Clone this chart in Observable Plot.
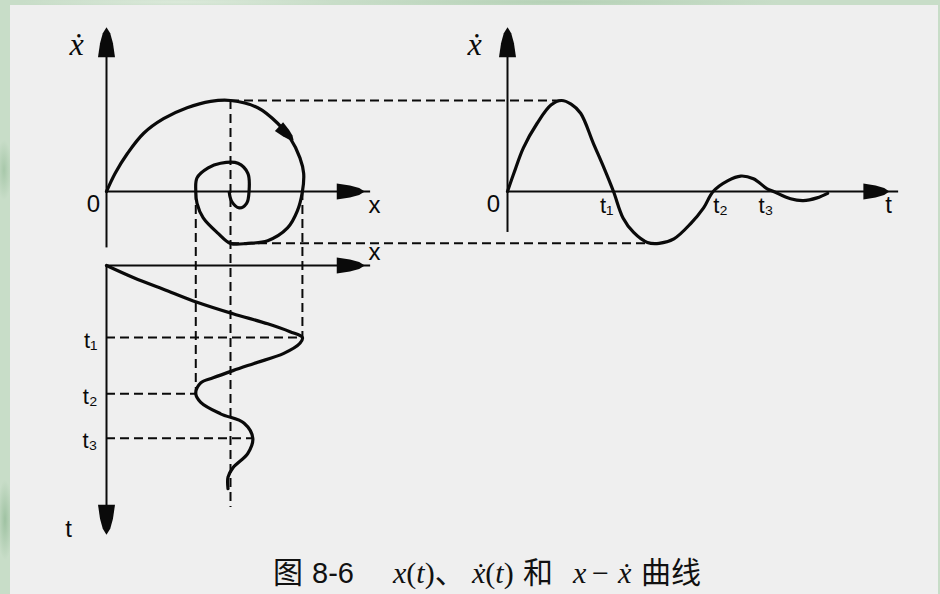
<!DOCTYPE html>
<html lang="zh">
<head>
<meta charset="utf-8">
<title>图 8-6 x(t)、ẋ(t)和x−ẋ曲线</title>
<script src="https://cdn.jsdelivr.net/npm/d3@7"></script>
<script src="https://cdn.jsdelivr.net/npm/@observablehq/plot@0.6"></script>
<style>
  html, body { margin: 0; padding: 0; }
  body {
    width: 940px; height: 594px; overflow: hidden; position: relative;
    background:
      radial-gradient(ellipse 8px 30px at 4px 170px, #a8c8aa, transparent),
      radial-gradient(ellipse 8px 40px at 5px 520px, #9fc2a2, transparent),
      radial-gradient(ellipse 220px 6px at 560px 2px, #b5d1b6, transparent),
      radial-gradient(ellipse 160px 6px at 180px 2px, #dbe9da, transparent),
      #c8ddc8;
  }
  #sheet { position: absolute; left: 10px; top: 5px; width: 928px; height: 589px; background: #efefef; }
  #chart { position: absolute; left: 0; top: 0; width: 940px; height: 540px; }
  #chart svg { position: absolute; left: 0; top: 0; }
  #caption {
    position: absolute; left: 273px; top: 548px; height: 44px; white-space: nowrap;
    font-family: "Noto Sans CJK SC", sans-serif; font-size: 30px; line-height: 44px; color: #111;
  }
  #caption > span { display: inline-block; }
  .cjk { font-family: "Noto Sans CJK SC", sans-serif; font-size: 30px; }
  .num { font-family: "Liberation Sans", sans-serif; font-size: 29px; }
  .m { font-family: "Liberation Serif", "DejaVu Serif", serif; font-size: 30px; }
  .m i { font-style: italic; }
</style>
</head>
<body>
<div id="sheet"></div>
<div id="chart"></div>
<div id="caption"><span class="cjk" style="width:39px">图</span><span class="num" style="width:81px">8-6</span><span class="m" style="width:79px"><i>x</i>(<i>t</i>)<span class="cjk">、</span></span><span class="m" style="width:51px"><i>ẋ</i>(<i>t</i>)</span><span class="cjk" style="width:50px">和</span><span class="m" style="width:19px"><i>x</i></span><span class="m" style="width:26px">−</span><span class="m" style="width:23px"><i>ẋ</i></span><span class="cjk">曲线</span></div>
<script>
const W = 940, H = 540;
const ink = "#0a0a0a";
const sans = "Liberation Sans, DejaVu Sans, sans-serif";
const serif = "Liberation Serif, DejaVu Serif, serif";

// Phase-plane trajectory (displacement x, velocity ẋ), from the origin spiralling inward
const phaseX = [0.00, 0.07, 0.17, 0.30, 0.46, 0.65, 0.84, 1.00, 1.22, 1.38, 1.48, 1.56, 1.59, 1.58, 1.54, 1.46, 1.30, 1.14, 1.00, 0.90, 0.78, 0.73, 0.72, 0.73, 0.82, 0.92, 1.06, 1.14, 1.15, 1.13, 1.07, 1.01, 0.99];
const phaseV = [0.00, 0.20, 0.42, 0.64, 0.80, 0.92, 0.99, 1.00, 0.92, 0.75, 0.59, 0.37, 0.20, 0.00, -0.21, -0.40, -0.54, -0.57, -0.57, -0.46, -0.29, -0.13, 0.00, 0.15, 0.26, 0.31, 0.31, 0.20, 0.01, -0.13, -0.18, -0.11, -0.01];

// Velocity ẋ(t)
const velT = [0.00, 0.06, 0.15, 0.28, 0.41, 0.51, 0.60, 0.69, 0.81, 0.91, 1.00, 1.09, 1.19, 1.32, 1.43, 1.57, 1.73, 1.85, 1.94, 2.08, 2.20, 2.32, 2.45, 2.51, 2.67, 2.79, 2.92, 3.02];
const velV = [0.00, 0.20, 0.48, 0.75, 0.95, 1.00, 0.96, 0.86, 0.53, 0.26, 0.00, -0.29, -0.45, -0.56, -0.57, -0.52, -0.35, -0.18, 0.00, 0.12, 0.17, 0.14, 0.03, 0.00, -0.08, -0.10, -0.07, -0.02];

// Displacement x(t), time running downward
const dispT = [0.00, 0.17, 0.35, 0.51, 0.67, 0.81, 0.92, 1.00, 1.08, 1.22, 1.36, 1.46, 1.56, 1.63, 1.78, 1.90, 2.06, 2.19, 2.40, 2.61, 2.81, 2.94, 3.10];
const dispX = [0.00, 0.22, 0.49, 0.73, 1.02, 1.30, 1.48, 1.58, 1.56, 1.43, 1.19, 1.02, 0.86, 0.76, 0.72, 0.76, 0.92, 1.11, 1.18, 1.14, 1.02, 0.98, 0.98];

// Marked instants t1, t2, t3
const eventLabels = ["t₁", "t₂", "t₃"];
const velZeroT = [1.00, 1.94, 2.51];   // ẋ(t) = 0
const dispPeakT = [1.00, 1.78, 2.40];  // extremes of x(t)
const dispPeakX = [1.58, 0.72, 1.18];

// Velocity extremes and where they sit on the phase trajectory / time axis
const velExtV = [1.00, -0.57];
const velExtPhaseX = [1.00, 1.00];
const velExtT = [0.51, 1.43];

// Equilibrium displacement and how far down its guide line runs
const xEq = 1.00;
const xEqGuideEnd = 3.36;

// ---- layout: origin pixel and pixels per unit for each axis ----
const L = {x0: 106, xUnit: 124, v0: 191, vUnit: 91, tR0: 507, tRUnit: 106, tD0: 265, tDUnit: 72};
const xOpts  = {type: "linear", domain: [-L.x0 / L.xUnit, (W - L.x0) / L.xUnit], range: [0, W]};
const vOpts  = {type: "linear", domain: [(L.v0 - H) / L.vUnit, L.v0 / L.vUnit], range: [H, 0]};
const tROpts = {type: "linear", domain: [-L.tR0 / L.tRUnit, (W - L.tR0) / L.tRUnit], range: [0, W]};
const tDOpts = {type: "linear", domain: [-L.tD0 / L.tDUnit, (H - L.tD0) / L.tDUnit], range: [0, H]};

const sX = Plot.scale({x: xOpts});
const sV = Plot.scale({y: vOpts});
const sTR = Plot.scale({x: tROpts});
const sTD = Plot.scale({y: tDOpts});

// Axis extents (data units)
const phaseVAxis = [-0.62, 1.64], phaseXAxis = [0, 2.13];
const velVAxis = [-0.45, 1.64], velTAxis = [0, 3.69];
const dispXAxis = [0, 2.13], dispTAxis = [0, 3.53];
const xHead = 1.97, tRHead = 3.48;

// Filled spire-shaped arrowhead, rotated clockwise from pointing up
function head(len, wid, deg) {
  const a = deg * Math.PI / 180, c = Math.cos(a), s = Math.sin(a);
  const half = [[0, -0.5], [0.22, -0.3], [0.38, 0.03], [0.5, 0.5]];
  const outline = half.concat(half.slice(1).reverse().map(([x, y]) => [-x, y]));
  const pts = outline.map(([x, y]) => [x * wid, y * len]).map(([x, y]) => [x * c - y * s, x * s + y * c]);
  return {draw(ctx) { ctx.moveTo(...pts[0]); for (const p of pts.slice(1)) ctx.lineTo(...p); ctx.closePath(); }};
}
const arrowDot = (x, y, sym) => Plot.dot([{x, y}], {x: "x", y: "y", symbol: sym, r: 5, fill: ink, stroke: "none"});
const label = (x, y, text, o = {}) =>
  Plot.text([{x, y}], {x: "x", y: "y", text: () => text, fill: ink, fontFamily: sans, fontSize: 24, ...o});
const axisLine = {stroke: ink, strokeWidth: 2};
const dashed = {stroke: ink, strokeWidth: 2, strokeDasharray: "9,5"};
const curve = {stroke: ink, strokeWidth: 3.2, curve: "catmull-rom", strokeLinejoin: "round", strokeLinecap: "round"};
const base = {width: W, height: H, margin: 0, style: "background: transparent; overflow: visible;"};

// ---- phase portrait ----
const phase = phaseX.map((x, i) => ({x, v: phaseV[i]}));
const k = 9, f = 0.7;  // direction marker along the outer turn
const mark = {x: phaseX[k] + f * (phaseX[k + 1] - phaseX[k]), v: phaseV[k] + f * (phaseV[k + 1] - phaseV[k])};
const ddx = sX.apply(phaseX[k + 1]) - sX.apply(phaseX[k - 1]);
const ddy = sV.apply(phaseV[k + 1]) - sV.apply(phaseV[k - 1]);
const markDeg = Math.atan2(ddx, -ddy) * 180 / Math.PI;

const phasePlot = Plot.plot({
  ...base,
  x: {...xOpts, axis: null},
  y: {...vOpts, axis: null},
  marks: [
    Plot.ruleX([0], {y1: phaseVAxis[0], y2: phaseVAxis[1], ...axisLine}),
    Plot.ruleY([0], {x1: phaseXAxis[0], x2: phaseXAxis[1], ...axisLine}),
    arrowDot(0, phaseVAxis[1], head(30, 17, 0)),
    arrowDot(xHead, 0, head(28, 16, 90)),
    Plot.line(phase, {x: "x", y: "v", ...curve}),
    arrowDot(mark.x, mark.v, head(20, 12, markDeg)),
    label(0, phaseVAxis[1], "ẋ", {fontFamily: serif, fontStyle: "italic", fontSize: 32, dx: -30, dy: 2}),
    label(0, 0, "0", {dx: -13, dy: 13}),
    label(phaseXAxis[1], 0, "x", {dx: 4, dy: 14})
  ]
});

// ---- velocity versus time ----
const velocity = velT.map((t, i) => ({t, v: velV[i]}));
const velLinks = velExtV.map((v, i) => ({v, t1: sTR.invert(sX.apply(velExtPhaseX[i])), t2: velExtT[i]}));
const velPlot = Plot.plot({
  ...base,
  x: {...tROpts, axis: null},
  y: {...vOpts, axis: null},
  marks: [
    Plot.ruleY(velLinks, {y: "v", x1: "t1", x2: "t2", ...dashed}),
    Plot.ruleX([0], {y1: velVAxis[0], y2: velVAxis[1], ...axisLine}),
    Plot.ruleY([0], {x1: velTAxis[0], x2: velTAxis[1], ...axisLine}),
    arrowDot(0, velVAxis[1], head(30, 17, 0)),
    arrowDot(tRHead, 0, head(26, 16, 90)),
    Plot.line(velocity, {x: "t", y: "v", ...curve}),
    label(0, velVAxis[1], "ẋ", {fontFamily: serif, fontStyle: "italic", fontSize: 32, dx: -33, dy: 2}),
    label(0, 0, "0", {dx: -14, dy: 13}),
    label(velTAxis[1], 0, "t", {dx: -10, dy: 14}),
    ...velZeroT.map((t, i) => label(t, 0, eventLabels[i], {fontSize: 22, dy: 14, textAnchor: i === 1 ? "start" : "end"}))
  ]
});

// ---- displacement versus time ----
const displacement = dispT.map((t, i) => ({t, x: dispX[i]}));
const vertLinks = [
  {x: dispPeakX[0], t1: sTD.invert(sV.apply(0)), t2: dispPeakT[0]},
  {x: dispPeakX[1], t1: sTD.invert(sV.apply(0)), t2: dispPeakT[1]},
  {x: xEq, t1: sTD.invert(sV.apply(velExtV[0])), t2: xEqGuideEnd}
];
const horizLinks = dispPeakT.map((t, i) => ({t, x1: 0, x2: dispPeakX[i]}));
const dispPlot = Plot.plot({
  ...base,
  x: {...xOpts, axis: null},
  y: {...tDOpts, axis: null},
  marks: [
    Plot.ruleX(vertLinks, {x: "x", y1: "t1", y2: "t2", ...dashed}),
    Plot.ruleY(horizLinks, {y: "t", x1: "x1", x2: "x2", ...dashed}),
    Plot.ruleY([0], {x1: dispXAxis[0], x2: dispXAxis[1], ...axisLine}),
    Plot.ruleX([0], {y1: dispTAxis[0], y2: dispTAxis[1], ...axisLine}),
    arrowDot(xHead, 0, head(28, 16, 90)),
    arrowDot(0, dispTAxis[1], head(30, 17, 180)),
    Plot.line(displacement, {x: "x", y: "t", ...curve}),
    label(dispXAxis[1], 0, "x", {dx: 4, dy: -13}),
    ...dispPeakT.map((t, i) => label(0, t, eventLabels[i], {fontSize: 22, dx: -9, dy: 3, textAnchor: "end"})),
    label(0, dispTAxis[1], "t", {dx: -38, dy: 10})
  ]
});

const chart = document.getElementById("chart");
chart.append(velPlot, dispPlot, phasePlot);
</script>
</body>
</html>
